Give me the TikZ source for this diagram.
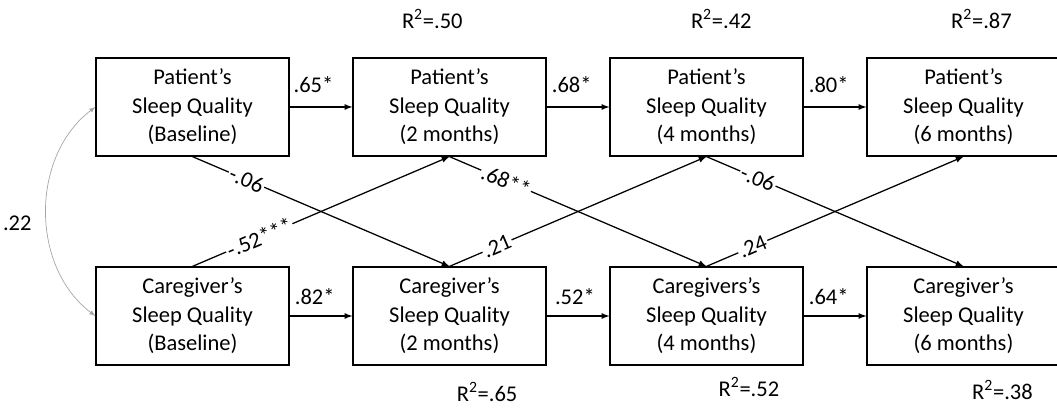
\documentclass[tikz,border=0pt]{standalone}
\usepackage{fontspec}
\setmainfont{Carlito}
\usepackage{tikz}
\usetikzlibrary{arrows,positioning}
\newcommand{\rsq}[1]{R\textsuperscript{2}=#1}

\begin{document}
\begin{tikzpicture}

\tikzset{
	var/.style={
		draw=black,
		rectangle,
		line width=0.9pt,
		minimum width=4.825cm,
		minimum height=2.45cm,
		align=center,
		font=\fontsize{16}{20.3}\selectfont},
	arrin/.style={
		<-,
		latex-,
		line width=0.9pt,
		font=\fontsize{16}{18}\selectfont},
	reg/.style={
		->,
		-latex,
		line width=0.9pt,
		font=\fontsize{16}{18}\selectfont},
	cross/.style={
		fill=white,
		sloped,
		inner sep=1pt},
	cov/.style={
		latex-latex,
		draw=gray!70,
		line width=0.5pt,
		font=\fontsize{16}{18}\selectfont},
	expl/.style={
		font=\fontsize{16}{18}\selectfont}
}

\useasboundingbox (0,0) rectangle (26.425,10.275);

% patient row
\node[var] (p0) at (4.8125,7.6) {Patient’s\\Sleep Quality\\(Baseline)};

\node[var,right=6.425cm of p0.center,anchor=center] (p2) {Patient’s\\Sleep Quality\\(2 months)}
   edge[arrin] node[above=0.22cm,pos=0.62] {.65*} (p0);

\node[var,right=6.425cm of p2.center,anchor=center] (p4) {Patient’s\\Sleep Quality\\(4 months)}
   edge[arrin] node[above=0.22cm,pos=0.6] {.68*} (p2);

\node[var,right=6.425cm of p4.center,anchor=center] (p6) {Patient’s\\Sleep Quality\\(6 months)}
   edge[arrin] node[above=0.22cm,pos=0.6] {.80*} (p4);

% caregiver row
\node[var,below=5.225cm of p0.center,anchor=center] (c0) {Caregiver’s\\Sleep Quality\\(Baseline)};

\node[var,right=6.425cm of c0.center,anchor=center] (c2) {Caregiver’s\\Sleep Quality\\(2 months)}
   edge[arrin] node[above=0.15cm,pos=0.6] {.82*} (c0);

\node[var,right=6.425cm of c2.center,anchor=center] (c4) {Caregivers’s\\Sleep Quality\\(4 months)}
   edge[arrin] node[above=0.15cm,pos=0.55] {.52*} (c2);

\node[var,right=6.425cm of c4.center,anchor=center] (c6) {Caregiver’s\\Sleep Quality\\(6 months)}
   edge[arrin] node[above=0.15cm,pos=0.6] {.64*} (c4);

% cross-lagged paths
\draw[reg] (p0.south) -- node[cross,pos=0.21] {-.06} (c2.north);
\draw[reg] (c0.north) -- node[cross,pos=0.26] {-.52***} (p2.south);
\draw[reg] (p2.south) -- node[cross,pos=0.22] {.68**} (c4.north);
\draw[reg] (c2.north) -- node[cross,pos=0.185] {.21} (p4.south);
\draw[reg] (p4.south) -- node[cross,pos=0.2] {-.06} (c6.north);
\draw[reg] (c4.north) -- node[cross,pos=0.18] {.24} (p6.south);

% covariance
\draw[cov] (p0.west) to[bend right=53] node[left=0.25cm,yshift=-0.3cm,text=black] {.22} (c0.west);

% explained variance
\node[expl,above=2.2cm of p2.center,anchor=center,xshift=-0.43cm] (r2) {\rsq{.50}};
\node[expl,above=2.2cm of p4.center,anchor=center,xshift=0.37cm] (r4) {\rsq{.42}};
\node[expl,above=2.2cm of p6.center,anchor=center,xshift=0.45cm] (r6) {\rsq{.87}};
\node[expl,below=1.9cm of c2.center,anchor=center,xshift=0.94cm] (s2) {\rsq{.65}};
\node[expl,below=1.775cm of c4.center,anchor=center,xshift=1.06cm] (s4) {\rsq{.52}};
\node[expl,below=1.85cm of c6.center,anchor=center,xshift=0.975cm] (s6) {\rsq{.38}};

\end{tikzpicture}
\end{document}
